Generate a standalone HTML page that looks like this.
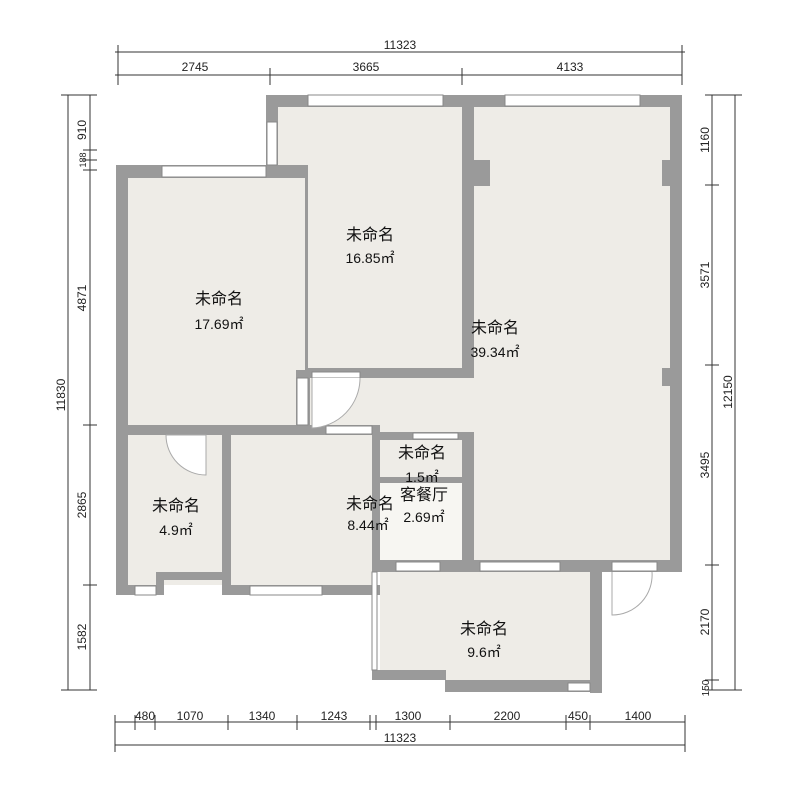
<!DOCTYPE html>
<html><head><meta charset="utf-8"><style>body{margin:0;background:#fff}svg{display:block}</style></head><body>
<svg width="800" height="800" xmlns="http://www.w3.org/2000/svg" font-family="Liberation Sans, Noto Sans CJK SC, sans-serif">
<rect width="800" height="800" fill="#fff"/>
<g fill="#eeece7">
<rect x="128" y="178" width="178" height="250"/>
<rect x="278" y="107" width="186" height="263"/>
<rect x="474" y="107" width="198" height="455"/>
<rect x="306" y="370" width="170" height="62"/>
<rect x="128" y="435" width="94" height="150"/>
<rect x="230" y="435" width="142" height="150"/>
<rect x="372" y="435" width="102" height="130"/>
<rect x="380" y="572" width="212" height="108"/>
<rect x="445" y="680" width="147" height="10"/>
</g>
<rect x="380" y="482" width="82" height="78" fill="#f7f6f2"/>
<g fill="#9a9a9a">
<rect x="266" y="95" width="416" height="12"/>
<rect x="266" y="95" width="12" height="83"/>
<rect x="116" y="165" width="192" height="13"/>
<rect x="116" y="165" width="12" height="430"/>
<rect x="670" y="95" width="12" height="477"/>
<rect x="462" y="95" width="12" height="283"/>
<rect x="305" y="165" width="3" height="210"/>
<rect x="306" y="368" width="168" height="10"/>
<rect x="116" y="425" width="196" height="10"/>
<rect x="222" y="432" width="9" height="163"/>
<rect x="230" y="425" width="150" height="10"/>
<rect x="372" y="432" width="102" height="8"/>
<rect x="372" y="432" width="8" height="140"/>
<rect x="462" y="432" width="12" height="140"/>
<rect x="372" y="477" width="98" height="6"/>
<rect x="116" y="585" width="48" height="10"/>
<rect x="156" y="572" width="8" height="23"/>
<rect x="156" y="572" width="70" height="8"/>
<rect x="222" y="585" width="158" height="10"/>
<rect x="372" y="560" width="310" height="12"/>
<rect x="590" y="560" width="12" height="133"/>
<rect x="372" y="670" width="74" height="10"/>
<rect x="445" y="680" width="157" height="12"/>
<rect x="462" y="160" width="28" height="26"/>
<rect x="662" y="160" width="10" height="26"/>
<rect x="662" y="368" width="10" height="18"/>
<rect x="296" y="370" width="14" height="56"/>
</g>
<g fill="#fff" stroke="#888" stroke-width="1">
<rect x="308" y="95" width="135" height="11"/>
<rect x="505" y="95" width="135" height="11"/>
<rect x="162" y="166" width="104" height="11"/>
<rect x="267" y="122" width="10" height="43"/>
<rect x="297" y="378" width="11" height="47"/>
<rect x="312" y="372" width="48" height="6"/>
<rect x="326" y="426" width="46" height="8"/>
<rect x="135" y="586" width="21" height="9"/>
<rect x="250" y="586" width="72" height="9"/>
<rect x="396" y="562" width="44" height="9"/>
<rect x="480" y="562" width="80" height="9"/>
<rect x="612" y="562" width="45" height="9"/>
<rect x="413" y="433" width="45" height="6"/>
<rect x="372" y="572" width="5" height="98"/>
<rect x="568" y="683" width="22" height="8"/>
</g>
<g fill="#fff" stroke="#aaa" stroke-width="1">
<path d="M312 378 V428 A50 50 0 0 0 360 378"/>
<path d="M166 435 H206 V475 A40 40 0 0 1 166 435"/>
<path d="M612 572 V615 A40 40 0 0 0 652 572" fill="none"/>
</g>
<g fill="#111" font-size="16" text-anchor="middle">
<text x="370" y="240">未命名</text><text x="370" y="263" font-size="14">16.85㎡</text>
<text x="219" y="304">未命名</text><text x="219" y="329" font-size="14">17.69㎡</text>
<text x="495" y="333">未命名</text><text x="495" y="357" font-size="14">39.34㎡</text>
<text x="422" y="458">未命名</text><text x="422" y="482" font-size="14">1.5㎡</text>
<text x="424" y="500">客餐厅</text><text x="424" y="522" font-size="14">2.69㎡</text>
<text x="370" y="509">未命名</text><text x="368" y="530" font-size="14">8.44㎡</text>
<text x="176" y="511">未命名</text><text x="176" y="535" font-size="14">4.9㎡</text>
<text x="484" y="634">未命名</text><text x="484" y="657" font-size="14">9.6㎡</text>
</g>
<g stroke="#333" stroke-width="1" fill="none">
<path d="M115 52H685 M115 75H682 M115 722H685 M115 745H685 M68 95V690 M90 95V690 M712 95V690 M735 95V690"/>
<path d="M118 45V85 M270 68V85 M462 68V85 M682 45V85 M115 715V752 M135 715V730 M155 715V730 M228 715V730 M297 715V730 M370 715V730 M376 715V730 M450 715V730 M566 715V730 M590 715V730 M685 715V752"/>
<path d="M61 95H97 M83 150H97 M83 160H97 M83 170H97 M83 425H97 M83 585H97 M61 690H97 M705 95H742 M705 185H719 M705 365H719 M705 565H719 M705 680H719 M705 690H742"/>
</g>
<g fill="#222" font-size="12" text-anchor="middle">
<text x="400" y="49">11323</text>
<text x="195" y="71">2745</text><text x="366" y="71">3665</text><text x="570" y="71">4133</text>
<text x="145" y="720">480</text><text x="190" y="720">1070</text><text x="262" y="720">1340</text><text x="334" y="720">1243</text><text x="408" y="720">1300</text><text x="507" y="720">2200</text><text x="578" y="720">450</text><text x="638" y="720">1400</text>
<text x="400" y="742">11323</text>
<text transform="translate(65 395) rotate(-90)">11830</text>
<text transform="translate(86 130) rotate(-90)">910</text>
<text transform="translate(86 160) rotate(-90)" font-size="9">188</text>
<text transform="translate(86 298) rotate(-90)">4871</text>
<text transform="translate(86 505) rotate(-90)">2865</text>
<text transform="translate(86 637) rotate(-90)">1582</text>
<text transform="translate(732 392) rotate(-90)">12150</text>
<text transform="translate(709 140) rotate(-90)">1160</text>
<text transform="translate(709 275) rotate(-90)">3571</text>
<text transform="translate(709 465) rotate(-90)">3495</text>
<text transform="translate(709 622) rotate(-90)">2170</text>
<text transform="translate(709 688) rotate(-90)" font-size="10">150</text>
</g>
</svg>
</body></html>
